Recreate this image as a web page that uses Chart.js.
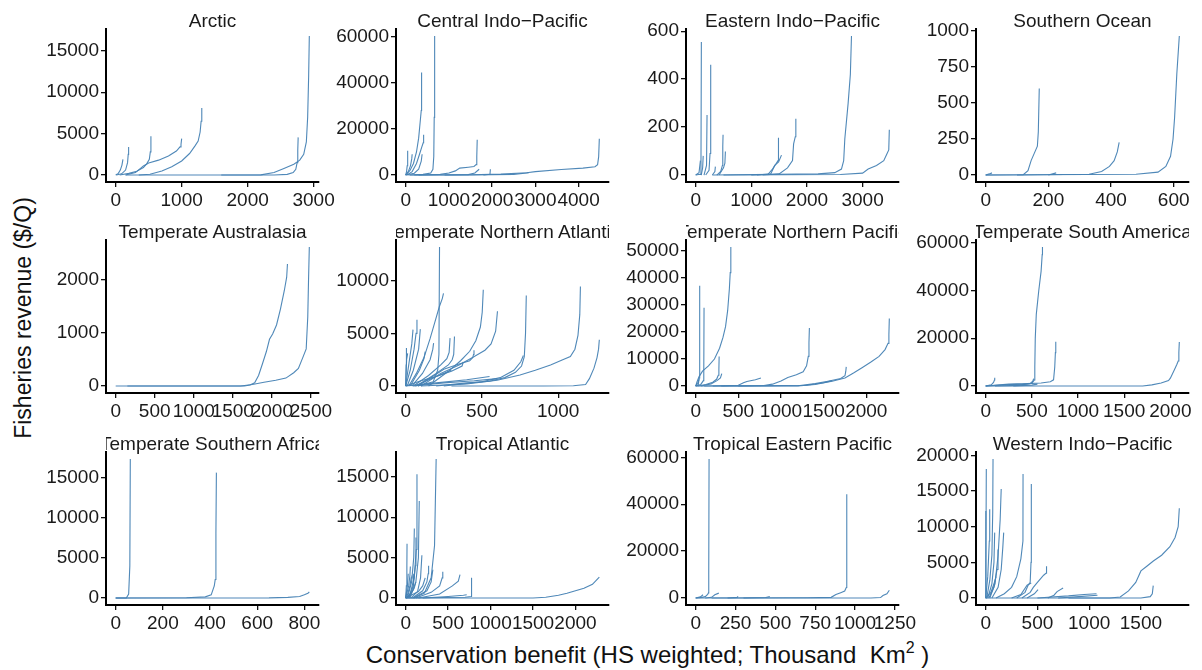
<!DOCTYPE html>
<html><head><meta charset="utf-8">
<script src="https://cdn.jsdelivr.net/npm/chart.js@4.4.1/dist/chart.umd.min.js"></script>
<style>
html,body{margin:0;padding:0;background:#fff;overflow:hidden}
#wrap{position:relative;width:1202px;height:670px;overflow:hidden;font-family:'Liberation Sans',Arial,sans-serif;background:#fff}
#wrap canvas{position:absolute}
.strip{position:absolute;display:flex;justify-content:center;overflow:hidden;white-space:nowrap;font-size:19px;line-height:22px;height:22px;color:#1a1a1a}
#xtitle{position:absolute;left:106px;width:1083px;top:641px;height:27px;line-height:27px;text-align:center;font-size:24px;color:#111;white-space:nowrap}
#xtitle sup{font-size:16px;line-height:0;vertical-align:10px}
#ytitle{position:absolute;left:-127px;top:305px;width:300px;height:26px;line-height:26px;text-align:center;font-size:23px;color:#111;transform:rotate(-90deg);white-space:nowrap}
</style></head>
<body>
<div id="wrap">
<div id="ytitle">Fisheries revenue ($/Q)</div>
<div id="xtitle">Conservation benefit (HS weighted; Thousand&nbsp; Km<sup>2</sup> )</div>
</div>
<script>
// ---------- DATA ----------
const panelNames = ["Arctic","Central Indo\u2212Pacific","Eastern Indo\u2212Pacific","Southern Ocean",
  "Temperate Australasia","Temperate Northern Atlantic","Temperate Northern Pacific","Temperate South America",
  "Temperate Southern Africa","Tropical Atlantic","Tropical Eastern Pacific","Western Indo\u2212Pacific"];

const arcticCurves = [
 [[0,0],[40,200],[70,600],[95,1200],[110,1900]],
 [[10,0],[90,150],[150,600],[180,1500],[190,2500],[196,3400]],
 [[60,0],[200,200],[320,450],[420,900],[470,1350],[510,1900],[525,2800],[534,4700]],
 [[150,0],[300,300],[420,1100],[500,1450],[650,1800],[800,2300],[920,2900],[975,3400],[990,3700],[1000,4400]],
 [[350,0],[520,100],[700,500],[850,1000],[1000,1700],[1120,2600],[1200,3500],[1250,4100],[1280,5200],[1295,6500],[1305,8100]],
 [[150,0],[1500,0],[2200,20],[2400,300],[2550,800],[2700,1300],[2790,1800],[2850,2500],[2890,4000],[2910,7000],[2925,12000],[2935,16800]],
 [[1600,0],[2400,0],[2600,80],[2690,300],[2730,700],[2750,1500],[2760,3000],[2766,4550]]
];
const centralCurves = [
 [[0,0],[20,1500],[35,4000],[46,10500]],
 [[0,0],[60,1500],[110,4000],[140,7000],[150,9000]],
 [[0,0],[100,2000],[180,5000],[250,10000],[300,16000],[340,24000],[360,28000],[368,44500]],
 [[30,0],[150,1500],[250,5000],[320,9000],[370,12000],[405,14000],[415,17500]],
 [[0,0],[200,800],[300,2500],[360,6000],[380,9000]],
 [[60,0],[400,300],[580,900],[630,2500],[650,8000],[660,25000],[670,60300]],
 [[300,0],[800,300],[1000,900],[1150,1800],[1250,3000],[1450,3400],[1580,3700],[1630,4500],[1645,8000],[1655,15300]],
 [[900,0],[1450,200],[1600,900],[1700,2500]],
 [[1800,0],[1950,300],[1960,2500]],
 [[200,0],[1500,100],[2200,400],[2800,1000],[3000,1500],[3600,2400],[4100,3000],[4380,3600],[4440,4500],[4465,8000],[4480,15700]],
 [[100,0],[1500,0],[2500,300],[2850,1000]]
];
const easternCurves = [
 [[0,0],[80,3],[95,40],[102,555]],
 [[0,0],[60,10],[85,60]],
 [[100,0],[125,30],[135,80]],
 [[150,0],[195,40],[204,250]],
 [[180,0],[240,20],[258,90],[270,460]],
 [[300,0],[345,15],[354,35]],
 [[380,0],[450,15],[480,40],[487,120],[492,168]],
 [[420,0],[500,30],[525,50],[534,98]],
 [[1000,0],[1300,3],[1380,25],[1440,45],[1480,60],[1488,155]],
 [[1100,0],[1350,5],[1420,40],[1490,55],[1542,83]],
 [[1200,0],[1500,5],[1650,30],[1740,60],[1760,130],[1790,160],[1800,235]],
 [[300,0],[2200,5],[2500,10],[2620,25],[2660,60],[2680,150],[2740,300],[2780,420],[2800,580]],
 [[500,0],[2600,2],[3000,8],[3100,25],[3250,40],[3380,60],[3440,90],[3470,105],[3480,189]]
];
const southernCurves = [
 [[0,0],[12,8],[20,15]],
 [[0,0],[120,2],[135,30],[145,100],[155,150],[165,200],[168,300],[171,600]],
 [[200,0],[225,15]],
 [[100,0],[330,5],[370,25],[395,60],[410,100],[420,160],[426,227]],
 [[0,0],[480,5],[550,20],[575,60],[590,130],[598,250],[603,400],[610,700],[618,964]]
];
const tempAustralasiaCurves = [
 [[0,0],[1650,0],[1720,20],[1780,60],[1830,200],[1880,420],[1930,650],[1970,880],[2010,980],[2060,1150],[2110,1450],[2160,1800],[2190,2050],[2200,2300]],
 [[150,0],[1600,0],[1750,30],[1900,70],[2050,110],[2180,150],[2280,250],[2340,330],[2400,550],[2440,700],[2460,1300],[2470,2000],[2480,2620]]
];
const tempNAtlanticCurves = [
 [[0,0],[3,2000],[5,3600]],
 [[0,0],[6,2500],[13,3100]],
 [[0,0],[25,2500],[40,4000],[48,5350]],
 [[0,0],[30,1500],[55,3500],[68,5000],[74,6300]],
 [[10,0],[50,1500],[85,3500],[96,5400]],
 [[30,0],[90,1500],[120,2600],[128,3270]],
 [[40,0],[110,1200],[160,2500],[178,3500],[183,4070]],
 [[20,0],[70,1200],[120,2700],[160,4500],[190,6000],[220,7500],[240,8300],[248,8800]],
 [[80,0],[180,400],[210,1500],[218,3000],[222,13200]],
 [[50,0],[150,1000],[230,2000],[270,2600],[285,3200],[291,4550]],
 [[70,0],[200,1200],[280,2000],[305,2500],[315,3000],[320,4700]],
 [[60,0],[200,900],[300,1400],[370,1900],[378,2300]],
 [[80,0],[250,1600],[350,2100],[420,2400],[440,2700],[445,3000],[448,3400]],
 [[150,0],[280,1400],[360,2400],[420,3300],[460,4300],[490,5600],[502,7000],[509,9130]],
 [[100,0],[230,1200],[350,2000],[450,2800],[520,3400],[560,4000],[590,5200],[602,7100]],
 [[200,0],[400,300],[550,450],[650,800],[720,1300],[760,1900],[778,2800],[786,5000],[791,8600]],
 [[250,0],[500,400],[620,800],[710,1500],[755,2300],[772,2900]],
 [[100,0],[400,200],[600,550],[750,1050],[850,1500],[950,2000],[1030,2500],[1080,2800],[1110,3500],[1130,4800],[1142,6800],[1146,9450]],
 [[300,0],[900,0],[1100,30],[1180,150],[1205,700],[1235,1700],[1255,2700],[1265,3500],[1270,4400]],
 [[0,0],[200,300],[400,600],[550,900]],
 [[0,0],[100,500],[200,900],[300,1500]],
 [[50,0],[250,300],[450,500],[600,700]]
];
const tempNPacificCurves = [
 [[0,0],[15,1500],[40,3500],[80,5500],[150,7500],[220,10000],[280,14000],[320,18000],[350,22000],[375,28000],[395,36000],[405,42000],[412,51500]],
 [[0,0],[30,500],[42,3000],[47,37100]],
 [[0,0],[60,600],[90,2000],[95,5000],[98,29000]],
 [[0,0],[25,1200],[40,2500]],
 [[20,0],[120,600],[200,1400],[245,2500],[265,4000],[272,6000],[275,10900]],
 [[60,0],[180,800],[250,2000],[290,3000],[306,4600]],
 [[100,0],[300,100],[500,300],[560,1200],[600,1700],[700,2300],[765,3000]],
 [[200,0],[800,200],[900,700],[1000,1900],[1080,3200],[1180,4200],[1260,5300],[1300,7500],[1320,11000],[1328,16000],[1333,21500]],
 [[300,0],[1200,100],[1400,900],[1550,1800],[1700,2800],[1750,3800],[1760,5500],[1765,7100]],
 [[0,0],[1200,0],[1400,600],[1600,1800],[1750,3000],[1850,4800],[1950,6800],[2050,8800],[2150,11000],[2220,13500],[2255,15800],[2265,19000],[2270,25000]],
 [[500,0],[1300,300],[1500,1200],[1600,2000]]
];
const tempSAmericaCurves = [
 [[0,0],[200,500],[400,800],[500,1200],[525,2500],[532,8000],[537,20000],[548,30000],[575,40000],[600,48000],[612,55000],[615,58200]],
 [[0,0],[250,800],[450,1000],[600,1300],[700,1800],[735,2600],[748,8000],[755,14000],[759,18500]],
 [[0,0],[60,500],[85,1500],[95,2500],[98,3500]],
 [[100,0],[350,300],[480,1000],[510,2000],[520,3100]],
 [[300,0],[500,400],[560,800]],
 [[0,0],[1300,0],[1700,50],[1800,500],[1900,1300],[1980,2300],[2000,3300],[2040,6500],[2070,9000],[2085,10500],[2092,14000],[2097,18400]]
];
const tempSAfricaCurves = [
 [[0,0],[45,0],[55,500],[60,4000],[62,17300]],
 [[0,0],[300,30],[380,150],[405,400],[418,1500],[422,2300],[425,8000],[427,15600]],
 [[0,0],[650,20],[730,80],[780,200],[800,400],[815,600],[821,750]]
];
const tropAtlanticCurves = [
 [[0,0],[8,1500],[14,4000],[16,6700]],
 [[0,0],[20,1500],[30,3000]],
 [[0,0],[35,1500],[50,2800],[55,3900]],
 [[10,0],[50,1500],[65,2500],[74,2800]],
 [[20,0],[70,2000],[95,5000],[102,8600]],
 [[30,0],[90,1500],[115,4000],[121,7500]],
 [[40,0],[100,2500],[125,6000],[133,15300]],
 [[50,0],[120,2000],[150,5000],[160,12000]],
 [[60,0],[140,800],[175,2500],[191,5300]],
 [[80,0],[200,900],[250,2000],[265,3000],[270,4000]],
 [[90,0],[250,900],[300,2000],[320,3500]],
 [[100,0],[220,600],[300,2500],[340,6500],[359,17200]],
 [[120,0],[300,700],[400,1500],[430,2500],[437,3250]],
 [[150,0],[400,500],[550,1500],[620,2100],[640,2900]],
 [[200,0],[500,200],[680,350],[719,400]],
 [[0,0],[700,100],[770,200],[775,1000],[777,2500]],
 [[0,0],[1500,0],[1650,100],[1800,350],[1900,600],[2000,900],[2100,1200],[2200,1700],[2281,2600]],
 [[0,0],[60,500],[100,1200],[120,2000]],
 [[0,0],[150,800],[200,1500],[230,2500]],
 [[0,0],[40,300],[85,1000],[95,3000]]
];
const tropEPacificCurves = [
 [[0,0],[40,300],[60,600],[75,1500],[80,2200],[82,10000],[84,59300]],
 [[0,0],[30,500],[46,1400]],
 [[60,0],[100,300],[120,1400],[145,2100]],
 [[200,0],[260,300],[266,700]],
 [[300,0],[440,200],[465,700]],
 [[0,0],[700,100],[850,300],[880,1500],[910,2300],[935,3000],[945,4500],[947,20000],[949,44300]],
 [[100,0],[1100,50],[1160,200],[1175,1100],[1200,1800],[1215,3300]]
];
const westIndoPacificCurves = [
 [[0,0],[2,4000],[6,18100]],
 [[0,0],[1,3000],[2,12200]],
 [[0,0],[20,3000],[35,8000],[39,12450]],
 [[10,0],[40,2500],[60,6000],[68,12000],[71,19500]],
 [[20,0],[60,2000],[80,5000],[87,9170]],
 [[30,0],[80,1500],[110,4000],[119,6800]],
 [[40,0],[90,2000],[120,6000],[140,11000],[150,15300]],
 [[60,0],[120,1500],[150,4000],[165,7000],[174,9170]],
 [[0,0],[50,800],[80,2000],[100,3000]],
 [[100,0],[180,600],[250,1500],[300,3000],[340,5500],[360,8000],[361,17400]],
 [[300,0],[380,800],[410,1800],[430,2200],[438,5000],[440,10000],[442,16000]],
 [[250,0],[340,500],[400,1800],[440,2100]],
 [[350,0],[430,800],[460,1500],[500,2200],[560,3200],[585,3500],[588,4470]],
 [[400,0],[470,600],[506,1170]],
 [[600,0],[660,400],[690,900],[748,1400]],
 [[500,0],[800,300],[950,500],[1071,600]],
 [[700,0],[900,200],[1080,400]],
 [[800,0],[1500,0],[1590,200],[1610,600],[1619,1740]],
 [[0,0],[1200,0],[1300,150],[1380,1000],[1450,2200],[1500,3800],[1560,4500],[1620,5200],[1700,6000],[1780,7200],[1830,8500],[1860,10000],[1871,12600]]
];

const xTicks = [
 [0,1000,2000,3000],[0,1000,2000,3000,4000],[0,1000,2000,3000],[0,200,400,600],
 [0,500,1000,1500,2000,2500],[0,500,1000],[0,500,1000,1500,2000],[0,500,1000,1500,2000],
 [0,200,400,600,800],[0,500,1000,1500,2000],[0,250,500,750,1000,1250],[0,500,1000,1500]
];
const yTicks = [
 [0,5000,10000,15000],[0,20000,40000,60000],[0,200,400,600],[0,250,500,750,1000],
 [0,1000,2000],[0,5000,10000],[0,10000,20000,30000,40000,50000],[0,20000,40000,60000],
 [0,5000,10000,15000],[0,5000,10000,15000],[0,20000,40000,60000],[0,5000,10000,15000,20000]
];
const panelCurves = [arcticCurves,centralCurves,easternCurves,southernCurves,
  tempAustralasiaCurves,tempNAtlanticCurves,tempNPacificCurves,tempSAmericaCurves,
  tempSAfricaCurves,tropAtlanticCurves,tropEPacificCurves,westIndoPacificCurves];

// ---------- LAYOUT ----------
const colLeft = [106,396,686,976], rowTop = [29,240,452];
const PW = 213, PH = 153, YW = 100, PADT = 18, PADR = 40, XH = 40;
const lineColor = 'rgba(70,130,180,0.95)';
const textColor = '#1a1a1a';
Chart.defaults.font.family = "'Liberation Sans', Arial, sans-serif";

const wrap = document.getElementById('wrap');
panelNames.forEach((name, i) => {
  const col = i % 4, row = Math.floor(i / 4);
  const L = colLeft[col], T = rowTop[row];
  const cv = document.createElement('canvas');
  cv.width = YW + PW + PADR; cv.height = PADT + PH + XH;
  cv.style.left = (L - YW) + 'px'; cv.style.top = (T - PADT) + 'px';
  cv.style.width = cv.width + 'px'; cv.style.height = cv.height + 'px';
  wrap.appendChild(cv);
  const s = document.createElement('div');
  s.className = 'strip';
  s.style.left = L + 'px'; s.style.width = PW + 'px'; s.style.top = (T - 19) + 'px';
  const sp = document.createElement('span'); sp.textContent = name; s.appendChild(sp);
  wrap.appendChild(s);

  const curves = panelCurves[i];
  const xs = [], ys = [];
  curves.forEach(c => c.forEach(([x, y]) => { xs.push(x); ys.push(y); }));
  const xmin = Math.min(...xs), xmax = Math.max(...xs);
  const ymin = Math.min(...ys), ymax = Math.max(...ys);
  const xr = xmax - xmin, yr = ymax - ymin;
  const tickFont = {size: 19};
  new Chart(cv, {
    type: 'line',
    data: {datasets: curves.map(c => ({
      data: c.map(([x, y]) => ({x, y})),
      borderColor: lineColor, borderWidth: 1.1, pointRadius: 0, tension: 0, fill: false
    }))},
    options: {
      responsive: false, animation: false, devicePixelRatio: 1,
      layout: {padding: {left: 0, top: PADT, right: PADR, bottom: 0}},
      plugins: {legend: {display: false}, tooltip: {enabled: false}},
      scales: {
        x: {
          type: 'linear', min: xmin - 0.05 * xr, max: xmax + 0.05 * xr,
          afterBuildTicks: ax => { ax.ticks = xTicks[i].map(v => ({value: v})); },
          afterFit: ax => { ax.height = XH; },
          grid: {display: true, drawOnChartArea: false, drawTicks: true, tickLength: 5, color: '#111', lineWidth: 1.3},
          border: {display: true, color: '#000', width: 2},
          ticks: {autoSkip: false, maxRotation: 0, minRotation: 0, padding: 2, color: textColor, font: tickFont, callback: v => String(v)}
        },
        y: {
          type: 'linear', min: ymin - 0.05 * yr, max: ymax + 0.05 * yr,
          afterBuildTicks: ax => { ax.ticks = yTicks[i].map(v => ({value: v})); },
          afterFit: ax => { ax.width = YW; },
          grid: {display: true, drawOnChartArea: false, drawTicks: true, tickLength: 5, color: '#111', lineWidth: 1.3},
          border: {display: true, color: '#000', width: 2},
          ticks: {autoSkip: false, padding: 2, color: textColor, font: tickFont, callback: v => String(v)}
        }
      }
    }
  });
});
</script>
</body></html>
